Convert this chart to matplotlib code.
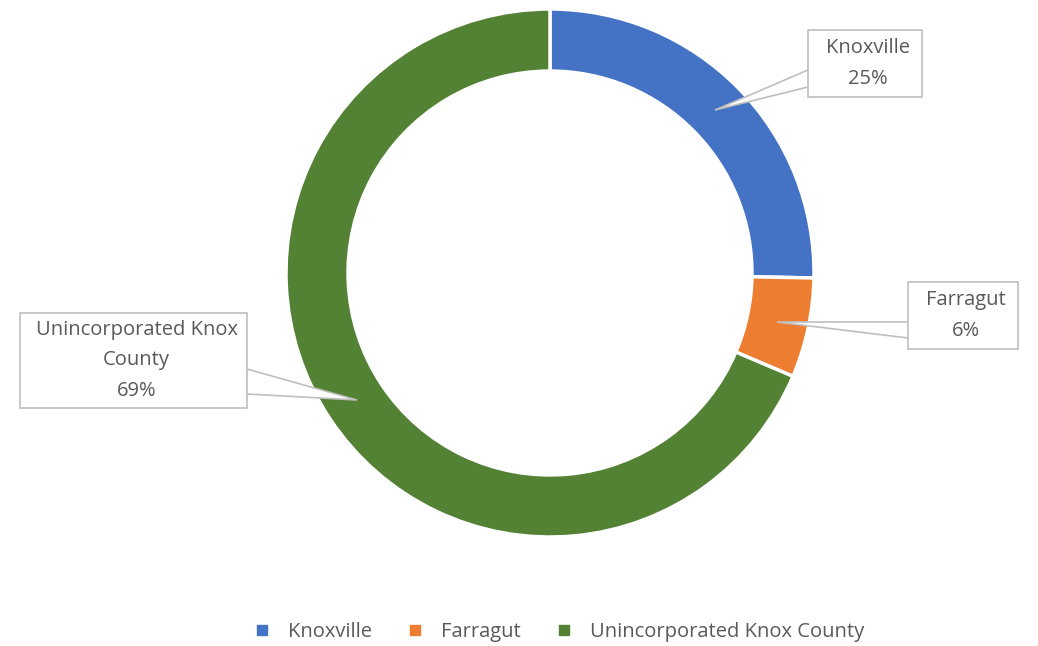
import numpy as np
import matplotlib.pyplot as plt
from matplotlib.patches import Polygon, Rectangle
from matplotlib.lines import Line2D

# podaci
kategorije = ['Knoxville', 'Farragut', 'Unincorporated Knox County']
udjeli = [25.3, 6.1, 68.6]
oznake = ['Knoxville\n25%', 'Farragut\n6%', 'Unincorporated Knox\nCounty\n69%']
boje = ['#4472C4', '#ED7D31', '#548235']

plt.rcParams['font.family'] = ['Open Sans', 'DejaVu Sans']

W, H = 1038, 646
fig = plt.figure(figsize=(W / 100, H / 100), dpi=100)
ax = fig.add_axes([0, 0, 1, 1])

cx, cy, R = 550, H - 273, 264
klinovi, _ = ax.pie(udjeli, colors=boje, startangle=90, counterclock=False,
                    center=(cx, cy), radius=R, frame=True,
                    wedgeprops=dict(width=R * 0.235, edgecolor='white', linewidth=2.5))
ax.set_xlim(0, W)
ax.set_ylim(0, H)
ax.set_aspect('equal')
ax.axis('off')

# oblacici s oznakama (kutija, vrh strelice, spoj na kutiju)
kutije = [
    dict(box=(808, 30, 922, 97), tip=(715, 110), att=[(808, 70), (808, 87)]),
    dict(box=(908, 282, 1018, 349), tip=(777, 322), att=[(908, 322), (908, 338)]),
    dict(box=(20, 313, 247, 408), tip=(357, 400), att=[(247, 369), (247, 394)]),
]
siva = '#BFBFBF'
for k, txt in zip(kutije, oznake):
    x0, y0, x1, y1 = k['box']
    ax.add_patch(Rectangle((x0, H - y1), x1 - x0, y1 - y0, facecolor='white',
                           edgecolor=siva, linewidth=1.2, zorder=5))
    pts = [k['att'][0], k['tip'], k['att'][1]]
    ax.add_patch(Polygon([(x, H - y) for x, y in pts], closed=False,
                         facecolor='white', edgecolor=siva, linewidth=1.2, zorder=4))
    ax.text((x0 + x1) / 2 + 3, H - (y0 + y1) / 2, txt, ha='center', va='center',
            fontsize=14.5, color='#595959', linespacing=1.68, zorder=6)

# legenda
rucke = [Line2D([], [], marker='s', linestyle='none', color=b, markersize=7)
         for b in boje]
fig.legend(rucke, kategorije, loc='center', bbox_to_anchor=(553 / W, 1 - 632 / H),
           ncol=3, frameon=False, fontsize=14.5, labelcolor='#595959',
           handletextpad=0.3, columnspacing=1.15)

plt.savefig('out.png', dpi=100)
